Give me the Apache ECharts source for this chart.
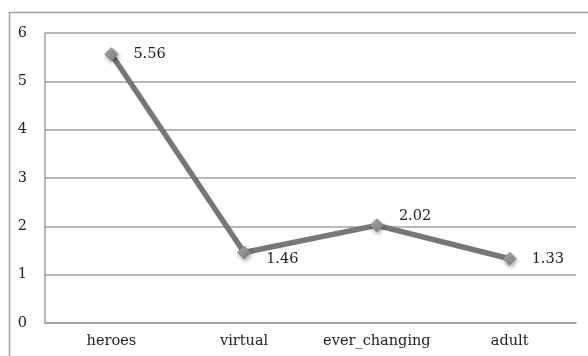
<!DOCTYPE html>
<html>
<head>
<meta charset="utf-8">
<script src="https://cdn.jsdelivr.net/npm/echarts@6/dist/echarts.min.js"></script>
<style>
  html, body { margin: 0; padding: 0; background: #fff; }
  #chart { width: 588px; height: 356px; }
</style>
</head>
<body>
<div id="chart"></div>
<script>
// 类别与数值
const categories = ['heroes', 'virtual', 'ever_changing', 'adult'];
const values = [5.56, 1.46, 2.02, 1.33];
const yTicks = [0, 1, 2, 3, 4, 5, 6];

// 每个数据标签的偏移（样式，不是数据）
const labelOffsets = [[15, 0], [15, 7], [15, -9], [15, 1]];

const chart = echarts.init(document.getElementById('chart'));
const fontFamily = '"DejaVu Serif", "Liberation Serif", serif';

chart.setOption({
  animation: false,
  textStyle: { fontFamily: fontFamily },
  graphic: [{
    type: 'rect',
    shape: { x: 9.5, y: 12.5, width: 600, height: 400 },
    style: { fill: 'none', stroke: '#a0a0a0', lineWidth: 1.5 },
    silent: true
  }],
  grid: { left: 45, top: 33, right: 12, bottom: 33 },
  xAxis: {
    type: 'category',
    data: categories,
    boundaryGap: true,
    axisLine: { lineStyle: { color: '#a0a0a0', width: 1.5 } },
    axisTick: { show: false },
    axisLabel: { interval: 0, color: '#222', fontSize: 14.5, fontFamily: fontFamily, margin: 11 }
  },
  yAxis: {
    type: 'value',
    min: yTicks[0],
    max: yTicks[yTicks.length - 1],
    interval: 1,
    axisLine: { show: true, lineStyle: { color: '#a0a0a0', width: 1.5 } },
    axisTick: { show: false },
    axisLabel: { color: '#222', fontSize: 14.5, fontFamily: fontFamily, margin: 18 },
    splitLine: { lineStyle: { color: '#a0a0a0', width: 1.5 } }
  },
  series: [{
    type: 'line',
    data: values.map((v, i) => ({
      value: v,
      label: { offset: labelOffsets[i] }
    })),
    lineStyle: { color: '#777777', width: 5.5 },
    symbol: 'diamond',
    symbolSize: 13,
    itemStyle: {
      color: new echarts.graphic.LinearGradient(0, 0, 1, 1, [
        { offset: 0, color: '#b5b5b5' },
        { offset: 1, color: '#7a7a7a' }
      ]),
      borderColor: '#8a8a8a',
      borderWidth: 1,
      shadowColor: 'rgba(0,0,0,0.35)',
      shadowBlur: 4,
      shadowOffsetX: 1,
      shadowOffsetY: 2
    },
    label: {
      show: true,
      position: 'right',
      distance: 0,
      color: '#222',
      fontSize: 14.5,
      fontFamily: fontFamily,
      formatter: p => p.value.toFixed(2)
    }
  }]
});
</script>
</body>
</html>
